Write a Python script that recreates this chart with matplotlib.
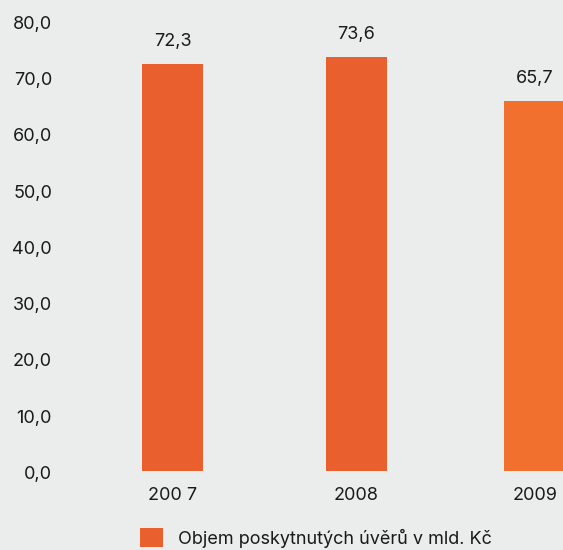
import matplotlib

matplotlib.use("Agg")
import matplotlib.pyplot as plt  # noqa: E402
from matplotlib.transforms import ScaledTranslation  # noqa: E402

YEARS = ["200 7", "2008", "2009"]
VALUES = [72.3, 73.6, 65.7]
COLORS = ["#e95f2e", "#e95f2e", "#f2702d"]
LEGEND_LABEL = "Objem poskytnutých úvěrů v mld. Kč"
YTICKS = [0, 10, 20, 30, 40, 50, 60, 70, 80]

BG = "#ebecec"
INK = "#1a1a1a"

plt.rcParams["font.family"] = ["Inter", "DejaVu Sans"]

W, H = 563, 550
fig = plt.figure(figsize=(W / 100, H / 100), dpi=100, facecolor=BG)
ax = fig.add_axes([60 / W, (H - 470.7) / H, 503 / W, 449.6 / H], facecolor=BG)

# last column sits a little closer, the frame cuts it at the right edge
x = [0, 1, 1.97]
bars = ax.bar(x, VALUES, width=0.3315, color=COLORS, label=LEGEND_LABEL)
for xi, v in zip(x, VALUES):
    ax.annotate(f"{v:.1f}".replace(".", ","), (xi, v), xytext=(0, 13),
                textcoords="offset points", ha="center", va="baseline",
                fontsize=13, color=INK)

ax.set_xlim(-0.6114, 2.1223)
ax.set_ylim(0, 80)
ax.set_xticks(x)
ax.set_xticklabels(YEARS)
ax.set_yticks(YTICKS)
ax.set_yticklabels([f"{t:.1f}".replace(".", ",") for t in YTICKS])
ax.tick_params(axis="both", length=0, labelsize=13, colors=INK)
ax.tick_params(axis="y", pad=5.8)
ax.tick_params(axis="x", pad=11.5)
nudge = ScaledTranslation(0, -1.5 / 100, fig.dpi_scale_trans)
for lbl in ax.get_yticklabels():
    lbl.set_transform(lbl.get_transform() + nudge)
for s in ax.spines.values():
    s.set_visible(False)

fig.legend(handles=[bars.patches[0]], labels=[LEGEND_LABEL], loc="upper left",
           bbox_to_anchor=(140 / W, 1 - 528 / H), frameon=False, fontsize=13,
           borderpad=0, borderaxespad=0, handlelength=1.3, handleheight=1.25,
           handletextpad=0.78, labelcolor=INK)

fig.savefig("out.png", dpi=100, facecolor=BG)
